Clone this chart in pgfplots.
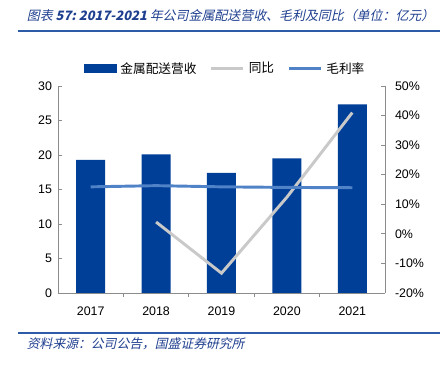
\documentclass[border=0pt]{standalone}
\usepackage{pgfplots}
\pgfplotsset{compat=1.18}
\usepackage{fontspec}
\setmainfont{Liberation Sans}
\newfontfamily\cjk{Noto Sans CJK SC}
\newfontfamily\cjkit[FakeSlant=0.22]{Noto Sans CJK SC}
\definecolor{barblue}{HTML}{003F98}
\definecolor{ttlblue}{HTML}{1F3F8F}
\definecolor{rulblue}{HTML}{2E5BA8}
\definecolor{lgray}{HTML}{C9C9C9}
\definecolor{lblue}{HTML}{4F82C6}
\definecolor{axgray}{HTML}{8C8C8C}
\begin{document}
\begin{tikzpicture}
\useasboundingbox (0,0) rectangle (330pt,275.25pt);
% title
\node[anchor=west,inner sep=0pt,text=ttlblue,font=\fontsize{9.7}{11}\selectfont] at (20pt,263.5pt)
 {\cjkit 图表\ \textbf{57:\ 2017-2021} 年公司金属配送营收、毛利及同比（单位：亿元）};
\draw[rulblue,line width=1.5pt] (13.5pt,252pt) -- (330pt,252pt);
% source
\draw[rulblue,line width=1.1pt] (13.5pt,25.5pt) -- (330pt,25.5pt);
\node[anchor=west,inner sep=0pt,text=ttlblue,font=\fontsize{9.6}{11}\selectfont] at (20pt,17.5pt)
 {\cjkit 资料来源：公司公告，国盛证券研究所};
\begin{axis}[
  at={(43.5pt,55.5pt)}, anchor=south west,
  scale only axis, width=245.25pt, height=155.25pt,
  xmin=-0.5, xmax=4.5, ymin=0, ymax=30,
  ytick={0,5,...,30},
  xtick={0,1,2,3,4},
  xticklabels={2017,2018,2019,2020,2021},
  minor xtick={0.5,1.5,2.5,3.5},
  major x tick style={draw=none},
  axis y line*=left, axis x line*=bottom,
  axis line style={axgray,line width=0.6pt},
  every tick/.style={axgray,line width=0.6pt},
  tick align=inside, major tick length=3pt, minor tick length=3pt,
  separate axis lines,
  x axis line style={-},
  y axis line style={-},
  tick label style={font=\fontsize{9.3}{11}\selectfont, text=black},
  xticklabel style={yshift=-4pt},
  yticklabel style={xshift=-1pt},
  /pgf/number format/assume math mode=true,
  ybar, bar width=21.75pt,
]
\addplot[fill=barblue,draw=none] coordinates {(0,19.3) (1,20.1) (2,17.4) (3,19.5) (4,27.35)};
\end{axis}
\begin{axis}[
  at={(43.5pt,55.5pt)}, anchor=south west,
  scale only axis, width=245.25pt, height=155.25pt,
  xmin=-0.5, xmax=4.5, ymin=-20, ymax=50,
  ytick={-20,-10,...,50},
  yticklabel={\pgfmathprintnumber{\tick}\%},
  axis y line*=right, axis x line=none,
  axis line style={axgray,line width=0.6pt,-},
  every tick/.style={axgray,line width=0.6pt},
  tick align=inside, major tick length=3pt,
  tick label style={font=\fontsize{9.3}{11}\selectfont, text=black},
  yticklabel style={xshift=4pt},
  /pgf/number format/assume math mode=true,
  legend style={at={(0.5,1.0)}, anchor=south, xshift=3pt, yshift=4pt, draw=none, fill=none,
    legend columns=-1, font=\fontsize{9.5}{11}\selectfont\cjk,
    /tikz/every odd column/.append style={column sep=1pt},
    /tikz/every even column/.append style={column sep=8pt}},
  legend cell align=left,
  legend image code/.code={\draw[#1] (0pt,0pt) -- (24pt,0pt);},
]
\addlegendimage{legend image code/.code={\fill[barblue] (0pt,-3pt) rectangle (24pt,3pt);}}
\addlegendentry{金属配送营收}
\addplot[lgray, line width=2.2pt, no marks] coordinates {(1,4.0) (2,-13.3) (3,12.4) (4,41.0)};
\addlegendentry{同比}
\addplot[lblue, line width=2.2pt, no marks] coordinates {(0,15.9) (1,16.3) (2,15.9) (3,15.7) (4,15.6)};
\addlegendentry{毛利率}
\end{axis}
\end{tikzpicture}
\end{document}
